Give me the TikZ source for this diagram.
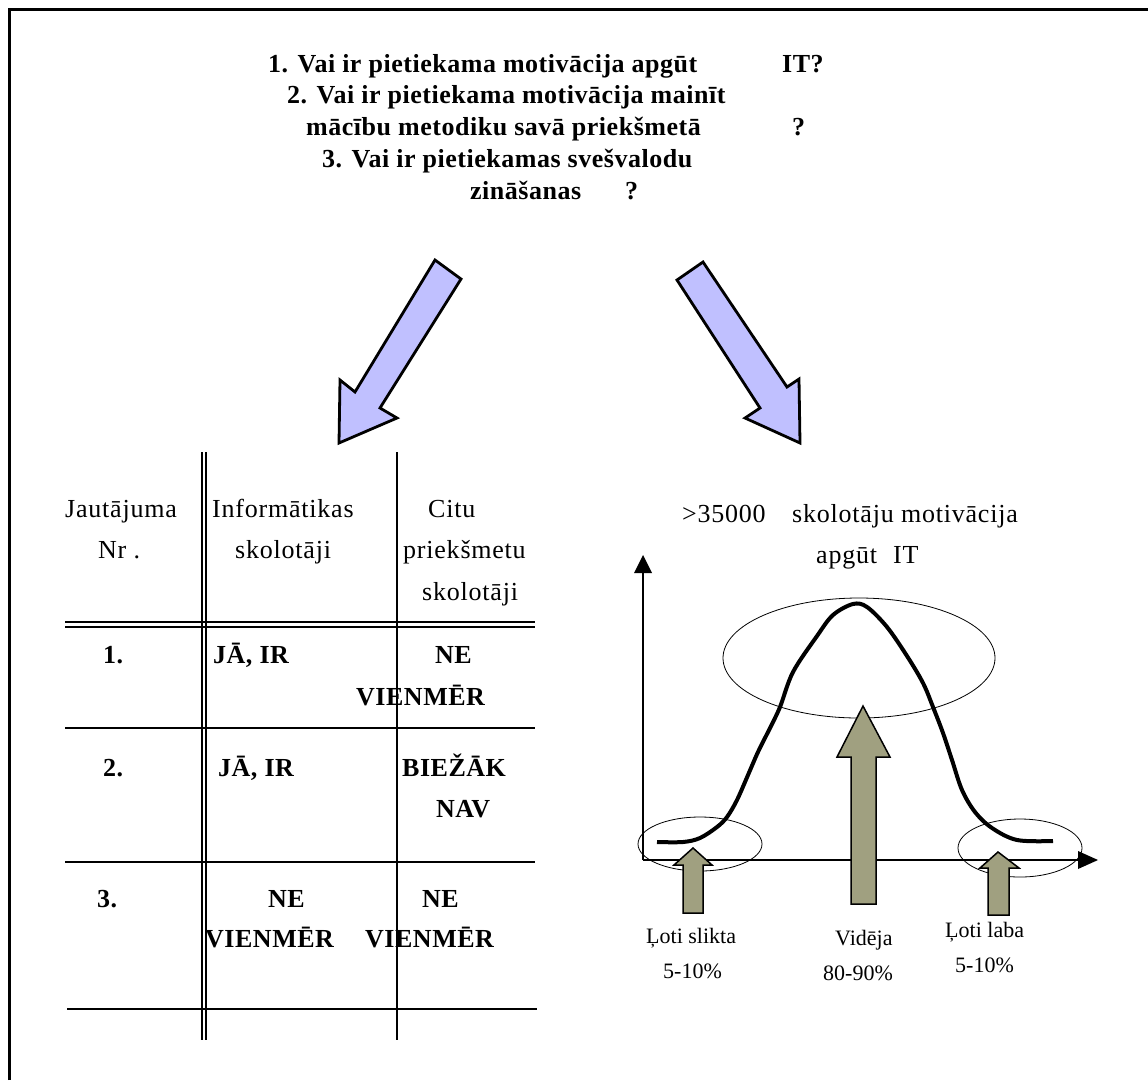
\documentclass[tikz,border=0pt]{standalone}
\usepackage{fontspec}
\setmainfont{Liberation Serif}
\newfontfamily\spaced[LetterSpace=3]{Liberation Serif}
\newfontfamily\hspaced[LetterSpace=2]{Liberation Serif}
\begin{document}
\begin{tikzpicture}[x=1pt,y=-1pt,
  hdr/.style={font=\hspaced\bfseries\fontsize{26}{32}\selectfont, anchor=base west, inner sep=0pt},
  cell/.style={font=\spaced\fontsize{26}{32}\selectfont, anchor=base west, inner sep=0pt},
  bcell/.style={font=\hspaced\bfseries\fontsize{26}{32}\selectfont, anchor=base west, inner sep=0pt},
  lbl/.style={font=\fontsize{22}{26}\selectfont, anchor=base west, inner sep=0pt},
  bluearrow/.style={fill={rgb,255:red,192;green,192;blue,255}, draw=black, line width=2.8pt, line join=miter},
  olivearrow/.style={fill={rgb,255:red,160;green,160;blue,128}, draw=black, line width=1.5pt},
  rule/.style={line width=1.6pt},
  axis/.style={line width=1.2pt},
  ring/.style={line width=0.8pt},
  curve/.style={line width=4pt, line join=round}]
\useasboundingbox (0,0) rectangle (1148,1080);
% frame
\draw[line width=3pt] (9,1080) -- (9,9.5) -- (1148,9.5);
% header
\node[hdr] (q1) at (268,72) {1. Vai ir pietiekama motivācija apgūt};
\node[hdr] (q1b) at (782,72) {IT?};
\node[hdr] (q2) at (287,103) {2. Vai ir pietiekama motivācija mainīt};
\node[hdr] (q3) at (306,135) {mācību metodiku savā priekšmetā};
\node[hdr] (q3b) at (792,135) {?};
\node[hdr] (q4) at (322,167) {3. Vai ir pietiekamas svešvalodu};
\node[hdr] (q5) at (470,199) {zināšanas};
\node[hdr] (q5b) at (625,199) {?};
% blue arrows
\draw[bluearrow] (435,260) -- (461,279) -- (380,408) -- (397,418) -- (339,443) -- (340,380) -- (355,392) -- cycle;
\draw[bluearrow] (677,280) -- (703,262) -- (787,387) -- (799,379) -- (800,443) -- (745,418) -- (760,408) -- cycle;
% table lines
\coordinate (v1t) at (202,452); \coordinate (v1b) at (202,1040);
\coordinate (v2t) at (206,452); \coordinate (v2b) at (206,1040);
\coordinate (v3t) at (397,452); \coordinate (v3b) at (397,1040);
\draw[rule] (v1t) -- (v1b);
\draw[rule] (v2t) -- (v2b);
\draw[rule] (v3t) -- (v3b);
\draw[rule] (65,622) -- (535,622);
\draw[rule] (65,627) -- (535,627);
\draw[rule] (65,728) -- (535,728);
\draw[rule] (65,862) -- (535,862);
\draw[rule] (67,1009) -- (537,1009);
% table header
\node[cell] (h1) at (65,517) {Jautājuma};
\node[cell] (h1b) at (98,558) {Nr .};
\node[cell] (h2) at (212,517) {Informātikas};
\node[cell] (h2b) at (235,558) {skolotāji};
\node[cell] (h3) at (428,517) {Citu};
\node[cell] (h3b) at (403,558) {priekšmetu};
\node[cell] (h3c) at (422,600) {skolotāji};
% rows
\node[bcell] (r1a) at (103,663) {1.};
\node[bcell] (r1b) at (213,663) {JĀ, IR};
\node[bcell] (r1c) at (435,663) {NE};
\node[bcell] (r1d) at (356,705) {VIENMĒR};
\node[bcell] (r2a) at (103,776) {2.};
\node[bcell] (r2b) at (218,776) {JĀ, IR};
\node[bcell] (r2c) at (402,776) {BIEŽĀK};
\node[bcell] (r2d) at (436,817) {NAV};
\node[bcell] (r3a) at (97,907) {3.};
\node[bcell] (r3b) at (268,907) {NE};
\node[bcell] (r3c) at (205,947) {VIENMĒR};
\node[bcell] (r3d) at (422,907) {NE};
\node[bcell] (r3e) at (365,947) {VIENMĒR};
% chart title
\node[cell] (t1) at (682,522) {>35000};
\node[cell] (t2) at (792,522) {skolotāju motivācija};
\node[cell] (t3) at (816,563) {apgūt};
\node[cell] (t4) at (893,563) {IT};
% axes
\coordinate (org) at (643,860);
\coordinate (ytip) at (643,555);
\coordinate (xtip) at (1098,860);
\draw[axis] (org) -- (643,573);
\fill (ytip) -- (652,573) -- (634,573) -- cycle;
\draw[axis] (org) -- (1078,860);
\fill (xtip) -- (1078,851) -- (1078,869) -- cycle;
% ellipses
\draw[ring] (859,658) ellipse [x radius=136, y radius=60];
\draw[ring] (700,844) ellipse [x radius=62, y radius=27];
\draw[ring] (1020,848) ellipse [x radius=62, y radius=29];
% bell curve
\draw[curve] plot[smooth, tension=0.55] coordinates {(657,842) (683,842) (700,838) (717,827) (727,817) (737,800) (748,775) (758,752) (770,728) (780,707) (793,672) (817,636) (833,615) (853,604) (867,607) (887,627) (907,656) (923,683) (933,707) (943,733) (952,760) (962,790) (975,812) (992,828) (1017,840) (1053,841)};
% olive arrows
\draw[olivearrow] (693,848) -- (712,865) -- (703,865) -- (703,913) -- (683,913) -- (683,865) -- (674,865) -- cycle;
\draw[olivearrow] (863,706) -- (890,757) -- (876,757) -- (876,904) -- (851,904) -- (851,757) -- (837,757) -- cycle;
\draw[olivearrow] (998,852) -- (1019,868) -- (1009,868) -- (1009,915) -- (988,915) -- (988,868) -- (980,868) -- cycle;
% labels
\node[lbl] (l1) at (646,943) {Ļoti slikta};
\node[lbl] (l1b) at (663,978) {5-10\%};
\node[lbl] (l2) at (835,945) {Vidēja};
\node[lbl] (l2b) at (823,980) {80-90\%};
\node[lbl] (l3) at (945,937) {Ļoti laba};
\node[lbl] (l3b) at (955,972) {5-10\%};
\end{tikzpicture}
\end{document}
